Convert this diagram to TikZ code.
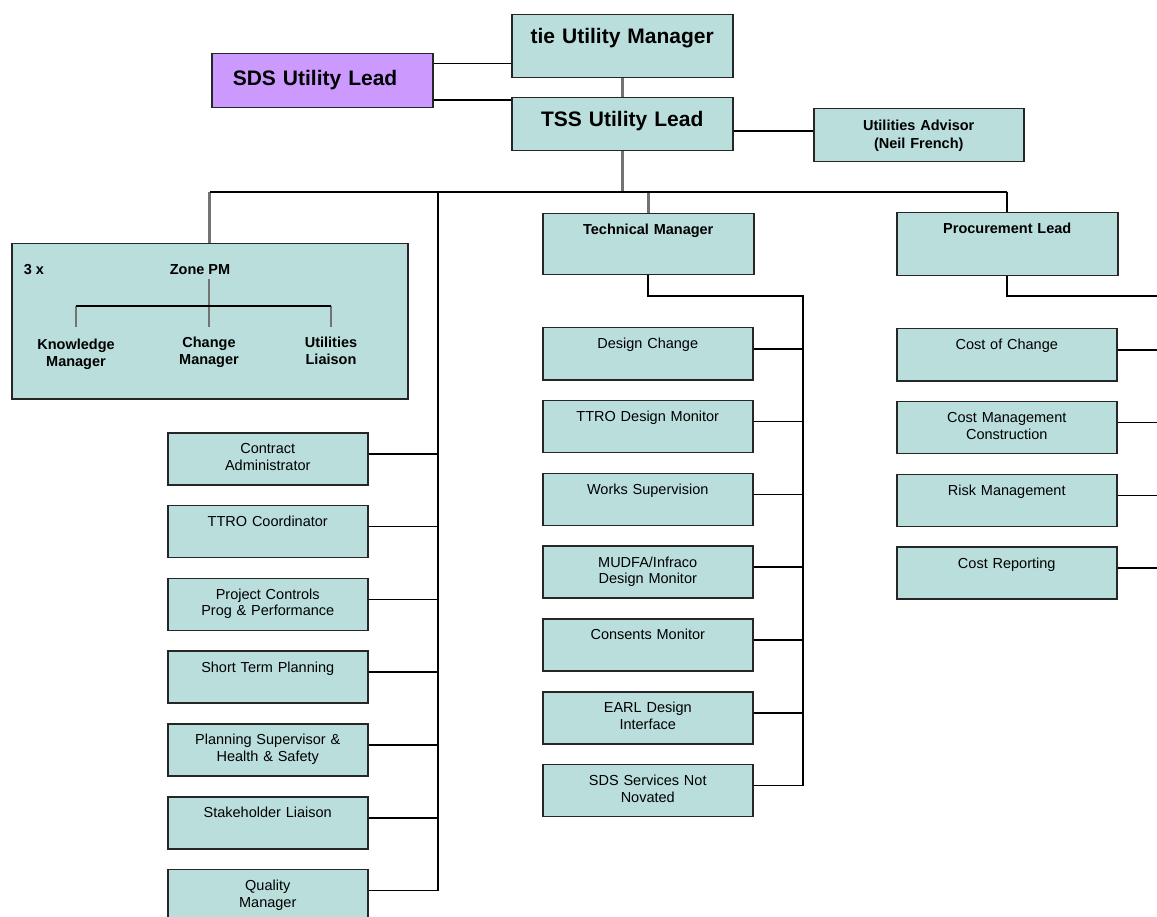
\documentclass[tikz,border=0pt]{standalone}
\usepackage{fontspec}
\setmainfont{Liberation Sans}
\usepackage{tikz}
\usetikzlibrary{positioning}
\definecolor{boxteal}{RGB}{185,222,220}
\definecolor{sdslilac}{RGB}{204,153,255}

\begin{document}
\begin{tikzpicture}[x=1pt, y=-1pt, node distance=19.3pt,
        link/.style = {draw=black, line width=1.7pt},
        gline/.style = {draw=black!55, line width=2.8pt},
        box/.style = {draw=black!85, line width=1.5pt, fill=boxteal, inner xsep=4pt, inner ysep=0pt, align=center, anchor=north west},
        head/.style = {box, font=\bfseries\fontsize{21}{25}\selectfont, text width=213pt},
        chief/.style = {box, font=\bfseries\fontsize{14.5}{18}\selectfont},
        leaf/.style = {box, font=\fontsize{14.5}{16.5}\selectfont, text height=21pt, text depth=31pt},
        zkid/.style = {anchor=north, inner ysep=10pt, align=center, font=\bfseries\fontsize{14.5}{17}\selectfont}]

        \path[use as bounding box, fill=white] (0,0) rectangle (1157,917);
        \clip (0,0) rectangle (1157,917);

        % top of the tree
        \node[head, text height=28.5pt, text depth=34.5pt] (tie) at (511,14) {tie Utility Manager};
        \node[head, text height=28.5pt, text depth=24.5pt] (tss) at (511,97) {TSS Utility Lead};
        \node[head, fill=sdslilac, align=left, text height=31.5pt, text depth=22.5pt] (sds) at (211,53) {\hspace*{17pt}SDS Utility Lead};
        \node[chief, text width=202pt, text height=22pt, text depth=31pt] (adv) at (813,108) {Utilities Advisor\\(Neil French)};

        \coordinate (t1) at ([yshift=15pt]tie.south west);
        \coordinate (t2) at ([yshift=-3pt]tss.north west);
        \draw[link] (t1 -| sds.east) -- (t1);
        \draw[link] (t2 -| sds.east) -- (t2);
        \draw[gline] (tie.south) -- (tss.north);
        \draw[link] (adv.base west -| tss.east) -- (adv.base west);

        % second level
        \node[box, minimum width=396pt, minimum height=155pt, inner sep=0pt] (zone) at (11,243) {};
        \node[chief, text width=203pt, text height=21pt, text depth=40pt] (tm) at (542,213) {Technical Manager};
        \node[chief, text width=213pt, text height=21pt, text depth=42pt] (pl) at (896,212) {Procurement Lead};

        \coordinate (bus) at (0,192);
        \coordinate (lspine) at (438,192);
        \draw[gline] (tss.south) -- (tss.south |- bus);
        \draw[gline] (zone.north |- bus) -- (zone.north);
        \draw[gline] (tm.north |- bus) -- (tm.north);
        \draw[link] (pl.north |- bus) -- (pl.north);
        \draw[link] (zone.north |- bus) -- (pl.north |- bus);

        % Zone PM box
        \node[font=\bfseries\fontsize{14.5}{17}\selectfont] (three) at (34,270) {3 x};
        \node[font=\bfseries\fontsize{14.5}{17}\selectfont] (zpm) at (200,270) {Zone PM};
        \coordinate (zj) at (209,306);
        \node[zkid] (km) at (76,329) {Knowledge\\Manager};
        \node[zkid] (cmg) at (209,327) {Change\\Manager};
        \node[zkid] (ulz) at (331,327) {Utilities\\Liaison};
        \draw[gline] (zj) -- (zj |- zpm.south);
        \foreach \k in {km,cmg,ulz}
            \draw[gline] (\k.north |- zj) -- (\k.north |- cmg.north);
        \draw[link] (km.north |- zj) -- (ulz.north |- zj);

        % left column
        \node[leaf, text width=192pt] (ca) at (167,432) {Contract\\Administrator};
        \node[leaf, text width=192pt, below=of ca] (tc) {TTRO Coordinator};
        \node[leaf, text width=192pt, below=of tc] (pc) {Project Controls\\Prog \& Performance};
        \node[leaf, text width=192pt, below=of pc] (stp) {Short Term Planning};
        \node[leaf, text width=192pt, below=of stp] (ps) {Planning Supervisor \&\\Health \& Safety};
        \node[leaf, text width=192pt, below=of ps] (sl) {Stakeholder Liaison};
        \node[leaf, text width=192pt, below=of sl] (qm) {Quality\\Manager};

        \draw[link] (lspine) -- (lspine |- qm.base east);
        \foreach \n in {ca,tc,pc,stp,ps,sl,qm}
            \draw[link] (\n.base east) -- (\n.base east -| lspine);

        % middle column
        \node[leaf, text width=202pt] (dch) at (542,327) {Design Change};
        \node[leaf, text width=202pt, below=of dch] (tdm) {TTRO Design Monitor};
        \node[leaf, text width=202pt, below=of tdm] (wsu) {Works Supervision};
        \node[leaf, text width=202pt, below=of wsu] (mud) {MUDFA/Infraco\\Design Monitor};
        \node[leaf, text width=202pt, below=of mud] (con) {Consents Monitor};
        \node[leaf, text width=202pt, below=of con] (earl) {EARL Design\\Interface};
        \node[leaf, text width=202pt, below=of earl] (sdsn) {SDS Services Not\\Novated};

        \coordinate (mspine) at (803,296);
        \draw[link] (tm.south) |- (mspine) -- (mspine |- sdsn.base east);
        \foreach \n in {dch,tdm,wsu,mud,con,earl,sdsn}
            \draw[link] (\n.base east) -- (\n.base east -| mspine);

        % right column
        \node[leaf, text width=212pt] (coc) at (896,328) {Cost of Change};
        \node[leaf, text width=212pt, below=of coc] (cmc) {Cost Management\\Construction};
        \node[leaf, text width=212pt, below=of cmc] (rm) {Risk Management};
        \node[leaf, text width=212pt, below=of rm] (cr) {Cost Reporting};

        \coordinate (rspine) at (1160,296);
        \draw[link] (pl.south) |- (rspine);
        \foreach \n in {coc,cmc,rm,cr}
            \draw[link] (\n.base east) -- (\n.base east -| rspine);
    \end{tikzpicture}
\end{document}
